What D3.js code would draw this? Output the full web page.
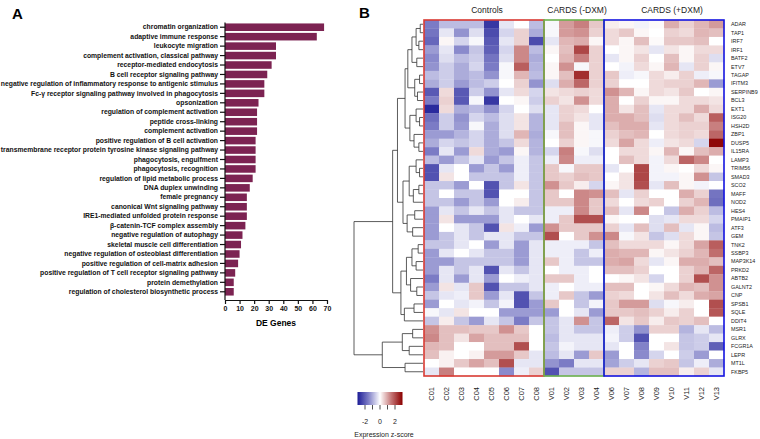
<!DOCTYPE html>
<html><head><meta charset="utf-8">
<script src="https://cdn.jsdelivr.net/npm/d3@7"></script>
<style>body{margin:0;background:#fff}svg{display:block;font-family:"Liberation Sans",Arial,sans-serif}</style>
</head><body><svg id="c" width="760" height="439"></svg>
<script>
// ---------- Panel A data ----------
const goTerms = ["chromatin organization","adaptive immune response","leukocyte migration","complement activation, classical pathway","receptor-mediated endocytosis","B cell receptor signaling pathway","negative regulation of inflammatory response to antigenic stimulus","Fc-\u03b3 receptor signaling pathway involved in phagocytosis","opsonization","regulation of complement activation","peptide cross-linking","complement activation","positive regulation of B cell activation","transmembrane receptor protein tyrosine kinase signaling pathway","phagocytosis, engulfment","phagocytosis, recognition","regulation of lipid metabolic process","DNA duplex unwinding","female pregnancy","canonical Wnt signaling pathway","IRE1-mediated unfolded protein response","\u03b2-catenin-TCF complex assembly","negative regulation of autophagy","skeletal muscle cell differentiation","negative regulation of osteoblast differentiation","positive regulation of cell-matrix adhesion","positive regulation of T cell receptor signaling pathway","protein demethylation","regulation of cholesterol biosynthetic process"];
const deGenes = [68,63,35,35,32,29,27,27,23,22,22,22,21,21,21,21,19,17,15,15,15,14,12,11,10,9,7,6,6];
const deTicks = [0,10,20,30,40,50,60,70];

// ---------- Panel B data ----------
const groups = ["Controls","CARDS (-DXM)","CARDS (+DXM)"];
const samples = ["C01","C02","C03","C04","C05","C06","C07","C08","V01","V02","V03","V04","V06","V07","V08","V09","V10","V11","V12","V13"];
const sampleGroup = [0,0,0,0,0,0,0,0,1,1,1,1,2,2,2,2,2,2,2,2];
const genes = ["ADAR","TAP1","IRF7","IRF1","BATF2","ETV7","TAGAP","IFITM3","SERPINB9","BCL3","EXT1","ISG20","HSH2D","ZBP1","DUSP5","IL15RA","LAMP3","TRIM56","SMAD3","SCO2","MAFF","NOD2","HES4","PMAIP1","ATF3","GEM","TNK2","SSBP3","MAP3K14","PRKD2","ABTB2","GALNT2","CNP","SPSB1","SQLE","DDIT4","MSR1","GLRX","FCGR1A","LEPR","MT1L","FKBP5"];
const zscores = [
[-1.6,-0.8,-0.8,-0.8,-2.6,-0.3,0,-0.8, -0.1,1.1,1.4,0.6, 0.2,0.1,-0.15,0.05,0.9,0.5,0.8,1.1],
[-1.7,-0.3,-1.3,-0.4,-2.3,-0.5,0.5,-1.0, -0.1,1.1,1.2,0.5, 0.4,0.6,0.1,0,0.5,0.4,0.8,0.7],
[-1.9,0.1,-0.5,-0.1,-2.1,-0.3,0.5,-2.3, -0.3,0.8,0.9,0.1, 0.4,0.1,0.7,0.05,0.6,0.6,0.7,0],
[-1.2,-0.3,-1.4,-0.7,-2.0,-0.5,1.3,-0.8, 0.1,0.7,2.1,0.5, 0,0.1,0.3,-0.3,0.3,0.1,0.4,0.4],
[-1.4,-0.4,-0.8,-0.6,-1.7,-0.4,1.3,-1.0, 0,0.8,1.4,0.5, -0.3,0.1,0.5,0,0.7,0.1,0.5,-0.4],
[-1.3,-0.6,-1.0,-0.5,-1.6,-0.1,1.8,-0.9, 0.1,1.2,-0.1,0.5, 0,-0.15,0.4,0.1,0.8,-0.3,0.5,0.1],
[-0.8,-0.6,-1.0,-0.8,-1.3,-0.1,0.8,-0.8, 0.1,0.7,2.4,0.5, 0.6,-0.2,-0.1,0.4,0.2,0.5,-0.2,-0.1],
[-1.0,-0.6,-1.2,-0.8,-0.6,0,0.5,-1.3, -0.4,0.9,1.7,0.5, 0.5,0,0,0.4,0.5,0.5,0.8,-1.2],
[-2.1,0.4,-2.1,-0.6,-1.3,-0.3,0.4,-0.5, 0.3,0.4,0.5,0.4, 1.2,0.8,0.1,0.4,0.3,0.6,0,0.1],
[-1.6,0.5,-2.1,-0.1,-2.6,0,0.1,-0.6, 0.5,0.3,1.2,0.4, 0.9,0,0.5,0.1,0.1,0.4,0.4,0.3],
[-2.8,0.4,-1.0,-0.8,-1.3,-0.5,0,-0.4, -0.3,0.5,0.4,0, 0.9,0.3,0.7,-0.3,0.4,0.4,0.9,0.4],
[-1.8,-0.6,-1.3,-0.5,-0.8,-0.4,0.3,-0.9, -0.3,0.5,0.3,-0.3, 0.9,0.9,0.7,-0.4,0.4,0.7,0.4,1.8],
[-1.6,-0.6,-1.2,-0.1,-1.0,-0.4,0.3,-0.9, -0.3,0.7,0.1,-0.3, 0.7,0.9,0.9,-0.3,0.4,0.5,0.5,1.4],
[-1.2,-1.2,-0.9,-0.5,-1.0,-0.4,0.8,-1.0, -0.1,0.7,0.1,-0.1, 0.5,0.7,0.8,0,0.4,0.5,0.4,1.7],
[-1.0,-0.5,-0.7,-0.5,-1.0,-0.7,0.4,-0.9, 0,0.5,0.1,-0.1, 0.4,1.0,0.4,-0.2,0.3,0.4,-0.5,2.9],
[-1.6,-0.3,-1.2,0.4,-1.0,-1.2,0.1,-0.9, -0.5,1.4,-0.1,-0.4, 0,0.4,0.4,0.1,0.8,0.1,0.7,0.9],
[-0.8,-1.2,-0.7,-0.3,-1.2,-0.7,-0.2,-0.7, -0.2,1.3,-0.2,-0.2, 0,0.7,0.4,-0.15,0.4,1.7,1.3,0],
[-2.2,-0.3,0,-1.2,-0.7,-1.2,-0.2,-0.7, 0.6,-0.1,0.6,0.6, -0.3,0,2.1,-0.15,0.1,0,0.4,0.1],
[-2.2,0.3,0,-0.7,-0.7,-0.7,-0.2,-0.7, 0.6,0.5,0.7,0.6, 0,0.3,2.1,-0.15,-0.15,0.1,1.2,-0.7],
[-0.7,-0.7,-1.2,0,-2.2,-0.7,0.3,-0.7, 1.2,0.6,0.2,-0.5, 0.1,0.3,2.0,-0.3,0.7,0.1,-0.15,0],
[-0.7,0,-0.7,-0.7,-2.2,0,0,-0.7, 0.6,0,1.3,1.2, 0.7,-0.3,0.5,0,0,0.9,0.5,-1.7],
[-0.7,-0.7,-1.2,-0.7,-1.2,0,0.2,-0.7, 0.6,0.6,1.3,0.6, 0.4,0,0.4,0.5,0,0.5,0.8,-1.8],
[-1.2,-0.3,-0.7,-0.3,-0.7,-0.3,-0.7,-0.7, -0.2,-0.2,1.3,0.6, 0.7,-0.3,1.3,0,-0.7,0.9,0.5,-0.8],
[-1.2,0.3,-1.2,-1.2,-1.2,-0.3,0,-0.3, -0.2,0.6,2.0,2.0, 0.1,0,0,-0.4,-0.3,0.4,0.4,-0.5],
[-1.2,0,-0.3,-0.7,-2.2,0.3,-0.2,-1.2, 1.2,0.6,0.6,0.6, 0.5,-0.3,0.7,-0.4,0.7,-0.3,0.1,-0.8],
[-1.2,-0.7,-0.3,-0.7,-0.3,-0.3,-0.7,-0.7, 2.0,0,0.6,1.2, 1.3,-0.1,0.3,-0.7,-0.4,0.4,0.1,-0.7],
[-0.7,-0.7,-0.3,0,-1.2,-0.3,-1.2,-0.3, -0.2,-0.2,-0.2,-0.7, 0.7,0.4,0.4,0.4,0.1,0.4,1.0,1.8],
[-1.2,-0.3,0,-0.3,-0.7,-0.7,-1.2,-0.3, -0.2,-0.2,-0.7,-0.2, 0.9,0.8,0.8,0.1,0.3,0.5,0.8,1.6],
[-1.2,-1.2,-0.7,-0.7,-0.7,-0.7,-1.2,-0.3, 0.6,-0.2,-0.7,-0.7, 0.9,1.0,0.4,-0.3,0.1,0.9,0.9,0.7],
[-1.2,-0.3,-0.7,-0.3,-2.2,-0.3,-0.7,-0.3, 0,-0.2,-0.2,0, 0.7,0.7,0.5,0,0,0.5,0.8,1.7],
[-1.6,-0.3,-1.2,-0.3,-1.2,0,-0.2,-0.3, 0.6,0.6,-0.2,0, 0,0.1,0.3,-0.5,0,0.5,2.0,1.2],
[-1.2,0.3,-0.3,0.6,-2.2,-0.7,-0.7,-0.3, -0.2,0,-0.2,-0.2, 0.7,0.7,0,0.1,0.4,0.8,0.7,1.2],
[-0.7,-0.3,-0.2,0.6,-1.2,-0.3,-2.2,-0.7, -0.2,0.6,-0.7,-1.2, 0.5,0.4,0,0.3,0.7,0.4,0.9,1.0],
[-1.2,0,-0.3,-0.15,-0.7,-0.15,-2.2,-1.2, 0.6,0,-0.7,-0.15, 0.6,1.1,1.1,-0.4,-0.1,0.2,0,2.0],
[-0.1,-0.3,0.3,0,0,-1.2,-1.2,-1.2, -1.2,0,-0.3,-1.2, 0.6,0.6,0.7,0.5,0.2,0.5,0,1.9],
[-0.7,0.2,-0.7,-1.2,-0.3,-0.7,-1.6,-0.7, -0.7,-0.3,1.2,-0.7, 1.7,0.3,0.6,0.2,0.6,0.5,0.7,0],
[1.2,0.7,0.7,0.6,0.6,1.2,0.6,0, -0.7,-0.3,-0.7,-0.7, -0.2,-0.6,-1.3,0.5,0.5,-0.9,-0.3,-0.8],
[1.3,0.7,0.3,1.0,0.7,0.7,0.7,0, -0.8,-0.3,-0.3,-0.3, -0.15,-0.6,-2.2,0,0,-0.7,-0.6,-0.3],
[0.8,0.7,0,0,0.7,0.7,2.0,0, -0.7,-0.15,-0.3,-0.3, -0.3,0,-1.5,0,0.3,-0.7,-0.6,-2.0],
[0.7,0.15,0,0.15,1.1,1.1,0.6,-0.3, -0.8,-0.3,-1.2,0.6, -1.2,0,-1.4,-0.5,0,-0.6,-1.2,0],
[0,0.15,0.6,1.0,0.7,2.0,-0.3,-0.3, -1.3,-1.6,-0.3,-0.3, -1.1,-0.6,-0.3,0.5,0.6,-0.7,-0.2,-1.0],
[-0.3,1.4,0,0,0,-1.4,-0.2,0.5, -2.2,-0.7,-0.7,-0.7, 0.5,0.5,-0.9,0.7,0.7,0.2,0.5,-0.3]
];
// dendrogram: [height, left, right]; leaves are row indices
const dendro = [10,
  [4.4,
    [3.7,
      [2.6,
        [2.2,[1.6,[1.0,[0.4,0,1],[0.6,2,3]],[0.9,4,5]],[1.2,[0.5,6,7],[0.8,8,9]]],
        [1.9,[1.0,10,[0.5,11,12]],[1.3,13,[0.6,14,15]]]],
      [2.9,
        [2.0,[1.0,16,[0.5,17,18]],[1.4,[0.6,19,20],21]],
        [2.3,[1.2,22,23],[1.5,24,25]]]],
    [3.2,
      [2.4,[1.6,[0.7,26,27],[1.0,28,29]],[1.8,30,[0.9,31,32]]],
      [2.7,[1.3,33,34],35]]],
  [5.9,[3.0,[1.5,36,37],[2.0,38,39]],[2.6,40,41]]];
const legendTicks = [-2,-1,0,1,2];
const legendLabels = [-2,0,2];

// ---------- drawing ----------
const svg = d3.select("#c");
svg.append("rect").attr("width",760).attr("height",439).attr("fill","#fff");

// Panel A
svg.append("text").attr("x",12).attr("y",19).attr("font-size",15).attr("font-weight","bold").text("A");
const yA = d3.scaleBand(goTerms,[22.5,296.5]).paddingInner(0.2).paddingOuter(0.1);
const xA = d3.scaleLinear([0,70],[225,327]);
const gA = svg.append("g");
gA.selectAll("rect.bar").data(goTerms).join("rect").attr("class","bar")
  .attr("x",xA(0)).attr("y",d=>yA(d)).attr("height",yA.bandwidth())
  .attr("width",(d,i)=>xA(deGenes[i])-xA(0)).attr("fill","#7c2352");
const axL = gA.append("g").attr("transform",`translate(${xA(0)},0)`)
  .call(d3.axisLeft(yA).tickSize(5).tickPadding(2).tickSizeOuter(0));
axL.selectAll("text").attr("font-size",6.8).attr("font-weight","bold").attr("fill","#111").attr("font-family","Liberation Sans, Arial, sans-serif");
axL.select(".domain").attr("d",`M0,22.5V300`);
const axB = gA.append("g").attr("transform",`translate(0,300)`)
  .call(d3.axisBottom(xA).tickValues(deTicks).tickSize(4).tickPadding(2).tickSizeOuter(0));
axB.selectAll("text").attr("font-size",7).attr("font-weight","bold").attr("fill","#111").attr("font-family","Liberation Sans, Arial, sans-serif");
gA.selectAll(".domain,.tick line").attr("stroke","#111").attr("stroke-width",1.2);
gA.append("text").attr("x",(xA(0)+xA(70))/2).attr("y",326).attr("text-anchor","middle")
  .attr("font-size",8.5).attr("font-weight","bold").text("DE Genes");

// Panel B
svg.append("text").attr("x",359).attr("y",18).attr("font-size",15).attr("font-weight","bold").text("B");
const xH = d3.scaleBand(samples,[424,724]);
const yH = d3.scaleBand(genes,[20,376]);
const color = d3.scaleLinear([-3,-1.5,0,1.5,3],["#1c1c96","#8282c8","#ffffff","#c47676","#8b0000"]);
const cells = [];
zscores.forEach((row,r)=>row.forEach((v,c)=>cells.push({g:genes[r],s:samples[c],v})));
svg.append("g").selectAll("rect").data(cells).join("rect")
  .attr("x",d=>xH(d.s)).attr("y",d=>yH(d.g))
  .attr("width",xH.bandwidth()+0.3).attr("height",yH.bandwidth()+0.3)
  .attr("fill",d=>color(d.v));

const boxColors = ["#d93a32","#6cb24e","#1515e0"];
const headerDx = [3,3,8];
groups.forEach((g,gi)=>{
  const cols = samples.filter((s,i)=>sampleGroup[i]===gi);
  const x0 = xH(cols[0]), x1 = xH(cols[cols.length-1])+xH.bandwidth();
  svg.append("rect").attr("x",x0).attr("y",20).attr("width",x1-x0).attr("height",356)
    .attr("fill","none").attr("stroke",boxColors[gi]).attr("stroke-width",1.6);
  svg.append("text").attr("x",(x0+x1)/2+headerDx[gi]).attr("y",13).attr("text-anchor","middle")
    .attr("font-size",8.5).attr("fill","#222").text(g);
});
svg.append("g").selectAll("text").data(genes).join("text")
  .attr("x",731).attr("y",d=>yH(d)+yH.bandwidth()/2).attr("dy","0.35em")
  .attr("font-size",5.4).attr("fill","#222").text(d=>d);
svg.append("g").selectAll("text").data(samples).join("text")
  .attr("transform",d=>`translate(${xH(d)+xH.bandwidth()/2+2.5},387) rotate(-90)`)
  .attr("text-anchor","end").attr("font-size",7.5).attr("fill","#222").text(d=>d);

// dendrogram
const xD = d3.scaleLinear([0,10],[423,354]);
const gD = svg.append("g").attr("stroke","#333").attr("stroke-width",0.8).attr("fill","none");
function drawNode(n){
  if(typeof n === "number") return {x:xD(0), y:yH(genes[n])+yH.bandwidth()/2};
  const a = drawNode(n[1]), b = drawNode(n[2]), x = xD(n[0]);
  gD.append("path").attr("d",`M${a.x},${a.y}H${x}V${b.y}H${b.x}`);
  return {x, y:(a.y+b.y)/2};
}
drawNode(dendro);

// legend
const xL = d3.scaleLinear([-3,3],[357.5,402.5]);
const defs = svg.append("defs");
const grad = defs.append("linearGradient").attr("id","lg");
d3.range(-3,3.01,0.5).forEach(v=>grad.append("stop").attr("offset",(v+3)/6).attr("stop-color",color(v)));
svg.append("rect").attr("x",xL(-3)).attr("y",392).attr("width",xL(3)-xL(-3)).attr("height",13).attr("fill","url(#lg)");
const gl = svg.append("g");
gl.selectAll("line").data(legendTicks).join("line").attr("x1",d=>xL(d)).attr("x2",d=>xL(d))
  .attr("y1",405).attr("y2",409.5).attr("stroke","#222").attr("stroke-width",0.8);
gl.selectAll("text").data(legendLabels).join("text").attr("x",d=>xL(d)).attr("y",424)
  .attr("text-anchor","middle").attr("font-size",7).attr("fill","#222").text(d=>d);
svg.append("text").attr("x",384).attr("y",437).attr("text-anchor","middle").attr("font-size",7).attr("fill","#222").text("Expression z-score");
</script></body></html>
